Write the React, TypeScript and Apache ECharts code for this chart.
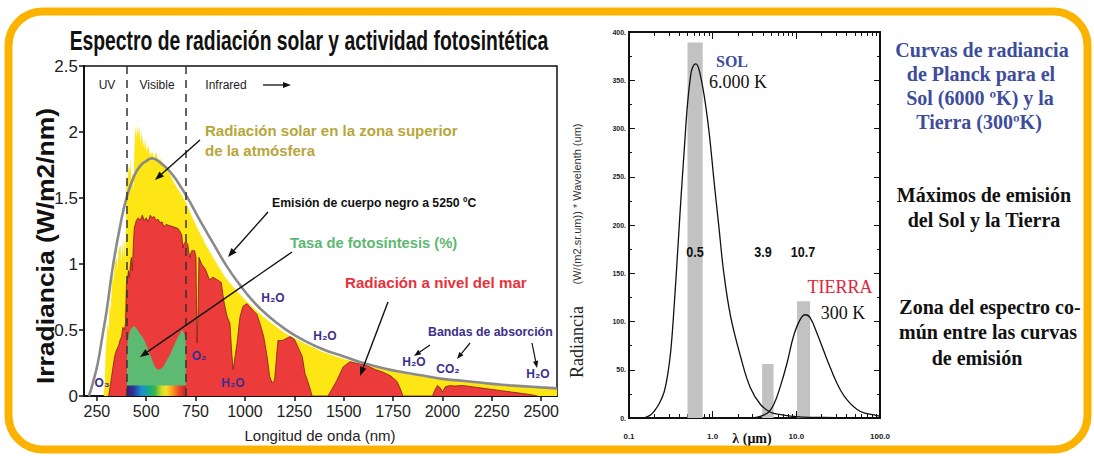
import React, { useEffect, useRef } from "react";
import * as echarts from "echarts";

// ---------- Left chart data (wavelength nm, irradiance W/m2/nm) ----------
const nmTicks = [250, 500, 750, 1000, 1250, 1500, 1750, 2000, 2250, 2500];

const blackbody: [number, number][] = [
  [210, 0], [230, 0.1], [255, 0.25], [280, 0.47], [300, 0.65], [331, 0.98], [367, 1.28], [402, 1.51],
  [440, 1.67], [468, 1.74], [500, 1.78], [530, 1.8], [570, 1.77], [620, 1.7], [660, 1.62],
  [706, 1.51], [772, 1.33], [838, 1.16], [909, 0.98], [975, 0.84], [1040, 0.72], [1100, 0.63],
  [1200, 0.51], [1300, 0.42], [1400, 0.35], [1500, 0.3], [1600, 0.25], [1700, 0.21], [1800, 0.18],
  [1900, 0.155], [2000, 0.13], [2100, 0.115], [2200, 0.1], [2300, 0.085], [2400, 0.075],
  [2500, 0.065], [2580, 0.058],
];

const topOfAtmosphere: [number, number][] = [
  [285, 0], [290, 0.1], [295, 0.35], [300, 0.45], [305, 0.55], [310, 0.5], [315, 0.7], [320, 0.65],
  [330, 0.95], [335, 0.85], [340, 1.0], [350, 1.05], [355, 0.95], [360, 1.1], [370, 1.15],
  [375, 1.0], [380, 1.2], [385, 1.05], [390, 1.2], [395, 1.0], [398, 1.35], [400, 1.7], [405, 1.6],
  [410, 1.75], [415, 1.7], [420, 1.8], [425, 1.6], [430, 1.7], [435, 1.55], [440, 1.85],
  [445, 2.05], [450, 1.95], [455, 2.05], [460, 1.98], [465, 2.05], [470, 1.9], [475, 2.0],
  [480, 1.95], [490, 1.88], [495, 1.95], [500, 1.85], [510, 1.9], [520, 1.82], [530, 1.85],
  [540, 1.8], [550, 1.85], [560, 1.78], [570, 1.8], [580, 1.77], [590, 1.75], [600, 1.72],
  [620, 1.68], [640, 1.62], [660, 1.57], [680, 1.52], [700, 1.47], [720, 1.4], [750, 1.3],
  [800, 1.15], [850, 1.02], [900, 0.9], [950, 0.81], [1000, 0.73], [1050, 0.66], [1100, 0.59],
  [1200, 0.48], [1300, 0.4], [1400, 0.33], [1500, 0.28], [1600, 0.24], [1700, 0.2], [1800, 0.17],
  [1900, 0.145], [2000, 0.125], [2100, 0.11], [2200, 0.095], [2300, 0.08], [2400, 0.07],
  [2500, 0.06], [2580, 0.055],
];

const seaLevel: [number, number][] = [
  [310, 0], [320, 0.1], [330, 0.2], [340, 0.3], [350, 0.35], [360, 0.38], [367, 0.42], [375, 0.45],
  [382, 0.52], [390, 0.5], [395, 0.55], [400, 0.85], [405, 0.88], [410, 0.95], [415, 0.9],
  [420, 1.0], [425, 1.05], [430, 0.95], [435, 1.15], [440, 1.28], [445, 1.3], [450, 1.33],
  [460, 1.35], [470, 1.33], [480, 1.37], [490, 1.33], [500, 1.35], [510, 1.32], [520, 1.37],
  [530, 1.35], [540, 1.36], [550, 1.33], [560, 1.34], [570, 1.31], [580, 1.32], [590, 1.28],
  [600, 1.3], [620, 1.29], [640, 1.28], [660, 1.27], [670, 1.25], [680, 1.22], [686, 1.12],
  [690, 1.15], [700, 1.17], [710, 1.15], [720, 1.05], [730, 1.1], [745, 1.1], [752, 1.05],
  [757, 0.4], [762, 0.6], [767, 1.05], [780, 1.0], [800, 0.96], [820, 0.88], [838, 0.9],
  [860, 0.88], [880, 0.86], [890, 0.75], [898, 0.68], [910, 0.6], [924, 0.55], [932, 0.35],
  [940, 0.2], [950, 0.3], [960, 0.4], [975, 0.6], [990, 0.68], [1010, 0.7], [1040, 0.65],
  [1060, 0.62], [1076, 0.55], [1095, 0.45], [1112, 0.3], [1125, 0.15], [1137, 0.1], [1150, 0.12],
  [1160, 0.3], [1167, 0.42], [1190, 0.42], [1228, 0.45], [1250, 0.43], [1269, 0.37], [1290, 0.3],
  [1304, 0.17], [1325, 0.08], [1340, 0], [1420, 0], [1440, 0.05], [1466, 0.12], [1497, 0.22],
  [1532, 0.26], [1560, 0.25], [1618, 0.23], [1660, 0.2], [1700, 0.18], [1740, 0.15], [1770, 0.11],
  [1785, 0.06], [1800, 0], [1950, 0], [1960, 0.04], [1975, 0.08], [1990, 0.06], [2000, 0.03],
  [2015, 0.07], [2040, 0.08], [2060, 0.075], [2100, 0.08], [2150, 0.07], [2200, 0.06],
  [2250, 0.05], [2300, 0.04], [2350, 0.03], [2400, 0.02], [2450, 0.01], [2480, 0],
];

const photosynthesis: [number, number][] = [
  [402, 0.08], [405, 0.38], [412, 0.46], [420, 0.5], [440, 0.53], [455, 0.5], [465, 0.48],
  [480, 0.45], [500, 0.39], [515, 0.33], [529, 0.28], [545, 0.22], [560, 0.2], [585, 0.22],
  [600, 0.26], [620, 0.31], [640, 0.38], [655, 0.43], [670, 0.47], [682, 0.5], [692, 0.47],
  [699, 0.44], [701, 0.08],
];

const visibleBand: [number, number][] = [[402, 0.08], [701, 0.08]];
const regionBounds = [400, 700];

// ---------- Right chart data (wavelength um, radiance * wavelength) ----------
const sunCurve: [number, number][] = [
  [0.15, 0], [0.18, 3], [0.2, 7], [0.23, 15], [0.263, 27], [0.29, 45], [0.316, 70], [0.346, 115],
  [0.38, 170], [0.416, 225], [0.455, 275], [0.5, 325], [0.54, 352], [0.573, 363], [0.63, 367],
  [0.687, 361], [0.788, 335], [0.904, 297], [1.04, 245], [1.19, 197], [1.36, 150], [1.64, 105],
  [2.15, 64], [2.83, 31], [3.73, 14], [4.91, 6], [6.5, 3.5], [8.5, 2], [12, 1], [21, 0.5],
  [40, 0.2], [100, 0],
];

const earthCurve: [number, number][] = [
  [3.1, 0], [4.48, 5], [5.37, 14], [6.45, 33], [7.75, 57], [9.27, 85], [11.1, 102], [12.8, 107],
  [14.6, 104], [17.6, 88], [23.2, 61], [30.6, 36], [40.2, 19], [57.6, 7], [91.6, 2.5], [100, 2],
];

const barFrom = [0.5, 3.9, 10.2];
const barTo = [0.76, 5.35, 14.6];
const barTop = [389, 56, 121];
const minorLogTicks = [
  0.2, 0.3, 0.4, 0.5, 0.6, 0.7, 0.8, 0.9, 2, 3, 4, 5, 6, 7, 8, 9, 20, 30, 40, 50, 60, 70, 80, 90,
];

const SANS = "Liberation Sans, Arial, sans-serif";
const SERIF = "Liberation Serif, Times New Roman, serif";
const INDIGO = "#3C2F8C";

function arrow(x1: number, y1: number, x2: number, y2: number, color = "#111", w = 1.4, head = 9) {
  const ang = Math.atan2(y2 - y1, x2 - x1);
  const hx = x2 - head * Math.cos(ang);
  const hy = y2 - head * Math.sin(ang);
  const px = Math.sin(ang) * head * 0.38;
  const py = -Math.cos(ang) * head * 0.38;
  return [
    { type: "line", silent: true, z: 50, shape: { x1, y1, x2: hx, y2: hy }, style: { stroke: color, lineWidth: w } },
    {
      type: "polygon",
      silent: true,
      z: 50,
      shape: { points: [[x2, y2], [hx + px, hy + py], [hx - px, hy - py]] },
      style: { fill: color },
    },
  ];
}

function txt(
  text: string, x: number, y: number, font: string, fill: string,
  align = "left", scaleX = 1, rotation = 0
) {
  return {
    type: "text", x, y, scaleX, rotation, silent: true, z: 50,
    style: { text, font, fill, align, verticalAlign: "middle" },
  };
}

export default function App() {
  const ref = useRef<HTMLDivElement>(null);

  useEffect(() => {
    if (!ref.current) return;
    const chart = echarts.init(ref.current, null, { renderer: "svg" });

    const rainbow = new echarts.graphic.LinearGradient(0, 0, 1, 0, [
      { offset: 0, color: "#3E1A6E" },
      { offset: 0.12, color: "#2B3A9C" },
      { offset: 0.25, color: "#1E8FD0" },
      { offset: 0.37, color: "#16A88C" },
      { offset: 0.48, color: "#3FB64A" },
      { offset: 0.58, color: "#C9D82B" },
      { offset: 0.66, color: "#F6E42A" },
      { offset: 0.76, color: "#F7A523" },
      { offset: 0.88, color: "#EE4A2B" },
      { offset: 1, color: "#C61F2B" },
    ]);

    const graphics: any[] = [
      {
        type: "rect", silent: true, z: 100,
        shape: { x: 8.5, y: 11.5, width: 1079, height: 438, r: 34 },
        style: { fill: "none", stroke: "#FBB300", lineWidth: 8 },
      },
      // left chart texts
      txt("Espectro de radiación solar y actividad fotosintética", 309, 40, `bold 28px ${SANS}`, "#111", "center", 0.69),
      txt("Irradiancia (W/m2/nm)", 46, 246, `bold 23px ${SANS}`, "#111", "center", 1.15, Math.PI / 2),
      txt("Longitud de onda (nm)", 320, 435, `15px ${SANS}`, "#222", "center"),
      txt("UV", 107, 85, `12px ${SANS}`, "#222", "center"),
      txt("Visible", 157, 85, `12px ${SANS}`, "#222", "center"),
      txt("Infrared", 226, 85, `12px ${SANS}`, "#222", "center"),
      ...arrow(263, 85, 291, 85, "#111", 1.3, 8),
      txt("Radiación solar en la zona superior", 205, 130, `bold 15px ${SANS}`, "#B8A63A", "left", 1.0),
      txt("de la atmósfera", 205, 150, `bold 15px ${SANS}`, "#B8A63A", "left", 1.0),
      ...arrow(200, 140, 155, 180),
      txt("Emisión de cuerpo negro a 5250 ºC", 272, 203, `bold 12px ${SANS}`, "#111", "left", 1.02),
      ...arrow(268, 212, 228, 257),
      txt("Tasa de fotosíntesis (%)", 290, 243, `bold 15px ${SANS}`, "#5DB872", "left", 0.98),
      ...arrow(292, 252, 140, 357),
      txt("Radiación a nivel del mar", 345, 283, `bold 15px ${SANS}`, "#E8313A", "left", 1.01),
      ...arrow(388, 302, 360, 376),
      txt("Bandas de absorción", 428, 332, `bold 13px ${SANS}`, INDIGO, "left", 0.95),
      ...arrow(430, 345, 414, 356, "#111", 1.2, 7),
      ...arrow(470, 343, 457, 359, "#111", 1.2, 7),
      ...arrow(532, 343, 537, 368, "#111", 1.2, 7),
      txt("O₃", 102, 383, `bold 12px ${SANS}`, INDIGO, "center"),
      txt("O₂", 199, 356, `bold 12px ${SANS}`, INDIGO, "center"),
      txt("H₂O", 233, 383, `bold 12px ${SANS}`, INDIGO, "center"),
      txt("H₂O", 273, 298, `bold 12px ${SANS}`, INDIGO, "center"),
      txt("H₂O", 325, 336, `bold 12px ${SANS}`, INDIGO, "center"),
      txt("H₂O", 414, 362, `bold 12px ${SANS}`, INDIGO, "center"),
      txt("CO₂", 448, 369, `bold 12px ${SANS}`, INDIGO, "center"),
      txt("H₂O", 538, 374, `bold 12px ${SANS}`, INDIGO, "center"),
      // right chart texts
      txt("Radiancia", 577, 342, `18px ${SERIF}`, "#222", "center", 1, Math.PI / 2),
      txt("(W/(m2.sr.um)) * Wavelenth (um)", 577, 204, `11px ${SANS}`, "#333", "center", 1, Math.PI / 2),
      txt("λ (μm)", 752, 438, `bold 14px ${SERIF}`, "#111", "center"),
      txt("SOL", 732, 61, `bold 16px ${SERIF}`, "#3D4C9C", "center"),
      txt("6.000 K", 738, 82, `18px ${SERIF}`, "#111", "center"),
      txt("0.5", 695, 252, `bold 14px ${SANS}`, "#111", "center", 0.9),
      txt("3.9", 763, 252, `bold 14px ${SANS}`, "#111", "center", 0.9),
      txt("10.7", 803, 252, `bold 14px ${SANS}`, "#111", "center", 0.9),
      txt("TIERRA", 840, 287, `18px ${SERIF}`, "#E3243B", "center"),
      txt("300 K", 843, 313, `18px ${SERIF}`, "#111", "center"),
      // side notes
      txt("Curvas de radiancia", 982, 50, `bold 20px ${SERIF}`, "#3D4C9C", "center"),
      txt("de Planck para el", 981, 74, `bold 20px ${SERIF}`, "#3D4C9C", "center"),
      txt("Sol (6000 ºK) y la", 980, 98, `bold 20px ${SERIF}`, "#3D4C9C", "center"),
      txt("Tierra (300ºK)", 979, 122, `bold 20px ${SERIF}`, "#3D4C9C", "center"),
      txt("Máximos de emisión", 984, 195, `bold 20px ${SERIF}`, "#111", "center"),
      txt("del Sol y la Tierra", 984, 220, `bold 20px ${SERIF}`, "#111", "center"),
      txt("Zona del espectro co-", 990, 307, `bold 20px ${SERIF}`, "#111", "center"),
      txt("mún entre las curvas", 988, 332, `bold 20px ${SERIF}`, "#111", "center"),
      txt("de emisión", 977, 358, `bold 20px ${SERIF}`, "#111", "center"),
    ];

    const hiddenLabel = { show: false };
    const rightYBase = {
      gridIndex: 1, type: "value", min: 0, max: 400, interval: 50,
      splitLine: { show: false },
      axisLine: { show: true, onZero: false, lineStyle: { color: "#111", width: 2 } },
      axisTick: { inside: true, length: 6, lineStyle: { color: "#111", width: 1 } },
      minorTick: { show: true, splitNumber: 2, length: 3, lineStyle: { color: "#111", width: 1 } },
    };
    const logBase = {
      gridIndex: 1, type: "log", logBase: 10, min: 0.1, max: 100,
      splitLine: { show: false },
      axisLine: { show: true, onZero: false, lineStyle: { color: "#111", width: 2 } },
      axisTick: { inside: true, length: 7, lineStyle: { color: "#111", width: 1 } },
    };
    const minorBase = {
      gridIndex: 1, type: "value", min: -1, max: 2,
      splitLine: { show: false },
      axisLine: { show: false, onZero: false },
      axisLabel: hiddenLabel,
      axisTick: {
        inside: true, length: 4, customValues: minorLogTicks.map((v) => Math.log10(v)),
        lineStyle: { color: "#111", width: 1 },
      },
    };

    const option: any = {
      animation: false,
      backgroundColor: "#ffffff",
      grid: [
        { left: 84, top: 66, width: 473, height: 330, show: true, borderColor: "#111", borderWidth: 1.5, backgroundColor: "transparent" },
        { left: 629, top: 32, width: 251, height: 386, show: true, borderColor: "#111", borderWidth: 2, backgroundColor: "transparent" },
      ],
      xAxis: [
        {
          gridIndex: 0, type: "value", min: 185, max: 2580,
          splitLine: { show: false },
          axisLine: { onZero: false, lineStyle: { color: "#111", width: 2 } },
          axisTick: { customValues: nmTicks, length: 5, lineStyle: { color: "#111", width: 1.5 } },
          axisLabel: {
            customValues: nmTicks, fontSize: 16, color: "#222", fontFamily: SANS, margin: 7,
            formatter: (v: number) => String(v),
          },
        },
        {
          ...logBase, position: "bottom",
          axisLabel: {
            fontSize: 8, fontWeight: "bold", color: "#222", fontFamily: SANS, margin: 14,
            formatter: (v: number) => (v < 0.5 ? "0.1" : Number(v).toFixed(1)),
          },
        },
        { ...logBase, position: "top", axisLabel: hiddenLabel },
        { ...minorBase, position: "bottom" },
        { ...minorBase, position: "top" },
      ],
      yAxis: [
        {
          gridIndex: 0, type: "value", min: 0, max: 2.5, interval: 0.5,
          splitLine: { show: false },
          axisLine: { show: true, onZero: false, lineStyle: { color: "#111", width: 2 } },
          axisTick: { show: true, length: 5, lineStyle: { color: "#111", width: 1.5 } },
          axisLabel: { fontSize: 17, color: "#222", fontFamily: SANS, margin: 6 },
        },
        {
          ...rightYBase, position: "left",
          axisLabel: {
            fontSize: 7, fontWeight: "bold", color: "#222", fontFamily: SANS, margin: 3,
            formatter: (v: number) => `${v}.`,
          },
        },
        { ...rightYBase, position: "right", axisLabel: hiddenLabel },
      ],
      series: [
        {
          type: "line", xAxisIndex: 0, yAxisIndex: 0, data: topOfAtmosphere, showSymbol: false,
          lineStyle: { width: 0 }, areaStyle: { color: "#FDE614", opacity: 1 }, z: 1,
        },
        {
          type: "line", xAxisIndex: 0, yAxisIndex: 0, data: seaLevel, showSymbol: false,
          lineStyle: { width: 0.8, color: "#7A1F18" }, areaStyle: { color: "#EC3B3B", opacity: 1 }, z: 2,
        },
        {
          type: "line", xAxisIndex: 0, yAxisIndex: 0, data: blackbody, showSymbol: false, smooth: true,
          lineStyle: { width: 2.6, color: "#8A8A8A" }, z: 3,
        },
        {
          type: "line", xAxisIndex: 0, yAxisIndex: 0, data: photosynthesis, showSymbol: false, smooth: 0.3,
          lineStyle: { width: 0 }, areaStyle: { color: "#5DBA72", opacity: 1 }, z: 4,
        },
        {
          type: "line", xAxisIndex: 0, yAxisIndex: 0, data: visibleBand, showSymbol: false,
          lineStyle: { width: 0 }, areaStyle: { color: rainbow, opacity: 1 }, z: 5,
          markLine: {
            silent: true, symbol: "none", z: 6,
            label: { show: false },
            lineStyle: { color: "#333", width: 1.5, type: [8, 6] },
            data: regionBounds.map((v) => ({ xAxis: v })),
          },
        },
        {
          type: "custom", xAxisIndex: 1, yAxisIndex: 1, z: 1,
          data: barFrom.map((v, i) => [v, barTo[i], barTop[i]]),
          encode: { x: [0, 1], y: 2 },
          renderItem: (params: any, api: any) => {
            const p0 = api.coord([api.value(0), api.value(2)]);
            const p1 = api.coord([api.value(1), 0]);
            return {
              type: "rect",
              shape: { x: p0[0], y: p0[1], width: p1[0] - p0[0], height: p1[1] - p0[1] },
              style: { fill: "#C2C2C2" },
            };
          },
        },
        {
          type: "line", xAxisIndex: 1, yAxisIndex: 1, data: sunCurve, showSymbol: false, smooth: 0.4,
          lineStyle: { width: 1.3, color: "#111" }, z: 3,
        },
        {
          type: "line", xAxisIndex: 1, yAxisIndex: 1, data: earthCurve, showSymbol: false, smooth: 0.4,
          lineStyle: { width: 1.3, color: "#111" }, z: 3,
        },
      ],
      graphic: { elements: graphics },
    };

    chart.setOption(option);
    return () => chart.dispose();
  }, []);

  return (
    <div
      ref={ref}
      style={{ position: "fixed", left: 0, top: 0, width: 1094, height: 456, background: "#fff" }}
    />
  );
}
